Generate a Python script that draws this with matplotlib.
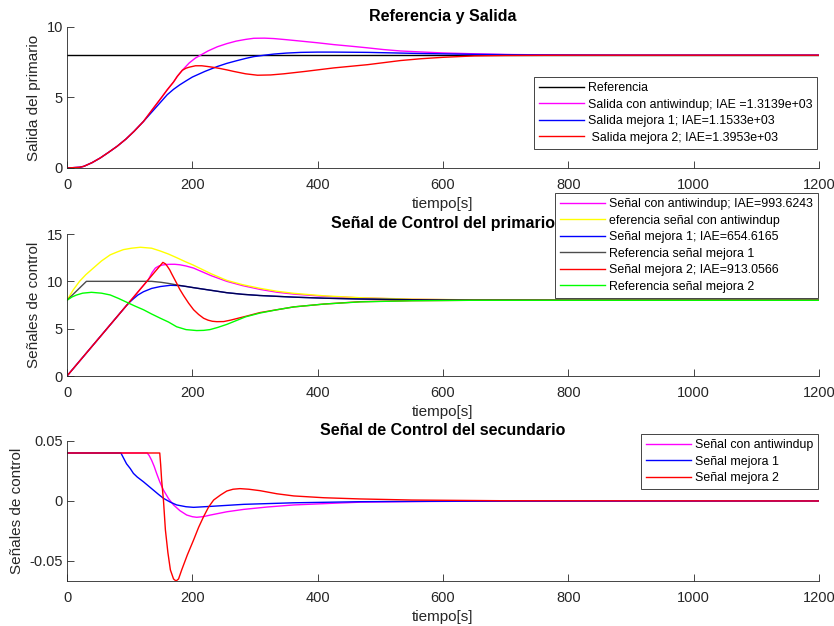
import numpy as np
import matplotlib.pyplot as plt

plt.rcParams['font.family'] = ['Liberation Sans', 'DejaVu Sans']

# ---------- subplot 1: Referencia y Salida ----------
t_ref = [0, 1200]
ref = [8, 8]

t_rise = [0, 20, 27, 40, 53, 66, 80, 94, 107, 122, 138, 150, 160, 170, 176, 184]
y_rise = [0, 0.05, 0.12, 0.38, 0.71, 1.1, 1.54, 2.05, 2.6, 3.3, 4.25, 4.95, 5.55, 6.1, 6.5, 6.93]

t_anti = [195, 205, 213, 225, 240, 255, 270, 285, 298, 315, 330, 350, 373, 400, 426, 455,
          480, 505, 532, 565, 600, 650, 700, 800, 900, 1200]
y_anti = [7.45, 7.8, 8.0, 8.3, 8.6, 8.82, 9.0, 9.12, 9.2, 9.21, 9.18, 9.1, 9.0, 8.88, 8.75, 8.63,
          8.52, 8.4, 8.3, 8.23, 8.16, 8.1, 8.05, 8.01, 8.0, 8.0]

t_mej1 = [122, 130, 138, 150, 160, 170, 180, 190, 200, 220, 240, 255, 270, 285, 298, 315,
          330, 350, 373, 400, 426, 480, 565, 650, 750, 900, 1200]
y_mej1 = [3.3, 3.7, 4.1, 4.7, 5.2, 5.58, 5.9, 6.18, 6.45, 6.85, 7.2, 7.42, 7.6, 7.77, 7.9, 8.0,
          8.08, 8.15, 8.2, 8.22, 8.22, 8.2, 8.12, 8.06, 8.02, 8.0, 8.0]

t_mej2 = [190, 195, 205, 215, 224, 235, 245, 256, 266, 285, 304, 325, 346, 380, 426, 480,
          532, 565, 600, 650, 700, 800, 1200]
y_mej2 = [7.08, 7.15, 7.25, 7.25, 7.2, 7.13, 7.05, 6.95, 6.85, 6.68, 6.58, 6.6, 6.68, 6.85, 7.1, 7.33,
          7.62, 7.75, 7.85, 7.95, 7.98, 8.0, 8.0]

# ---------- subplot 2: Señal de Control del primario ----------
t_yel = [0, 10, 20, 30, 42, 55, 69, 80, 90, 103, 117, 135, 149, 162, 175, 188, 202, 216, 230,
         255, 280, 308, 335, 362, 410, 468, 550, 650, 800, 1200]
y_yel = [8, 9.1, 10.0, 10.7, 11.4, 12.15, 12.8, 13.1, 13.35, 13.5, 13.6, 13.5, 13.2, 12.88, 12.5,
         12.1, 11.7, 11.25, 10.8, 10.1, 9.65, 9.26, 8.95, 8.73, 8.47, 8.27, 8.12, 8.04, 8.0, 8.0]

t_mag2 = [0, 130, 136, 141, 146, 152, 158, 165, 172, 180, 190, 202, 216, 230, 255, 280, 308,
          335, 362, 410, 468, 550, 650, 800, 1200]
y_mag2 = [0, 10.2, 10.95, 11.4, 11.6, 11.72, 11.78, 11.8, 11.8, 11.75, 11.62, 11.4, 11.0, 10.6,
          10.0, 9.55, 9.15, 8.85, 8.65, 8.42, 8.25, 8.1, 8.03, 8.0, 8.0]

t_blu2 = [0, 95, 100, 105, 113, 122, 135, 149, 165, 180, 191, 202, 230, 255, 280, 308, 362,
          410, 468, 550, 650, 800, 1200]
y_blu2 = [0, 7.45, 7.8, 8.1, 8.55, 8.9, 9.25, 9.45, 9.58, 9.55, 9.45, 9.33, 9.05, 8.8, 8.63, 8.5,
          8.33, 8.22, 8.13, 8.06, 8.02, 8.0, 8.0]

t_blk2 = [0, 31, 135, 150, 162, 175, 188, 202, 230, 255, 280, 308, 362, 410, 468, 550, 650,
          800, 1200]
y_blk2 = [8, 10, 10, 9.9, 9.78, 9.62, 9.48, 9.33, 9.05, 8.8, 8.63, 8.5, 8.33, 8.22, 8.13, 8.06,
          8.02, 8.0, 8.0]

t_red2 = [0, 153, 157, 160, 164, 167, 171, 175, 180, 186, 194, 202, 210, 218, 225, 232, 239,
          250, 261, 285, 308, 335, 362, 410, 468, 550, 650, 1200]
y_red2 = [0, 12, 11.85, 11.6, 11.2, 10.8, 10.3, 9.8, 9.15, 8.5, 7.7, 7.0, 6.5, 6.1, 5.9, 5.78,
          5.74, 5.75, 5.9, 6.3, 6.7, 7.0, 7.3, 7.6, 7.85, 7.96, 8.0, 8.0]

t_grn2 = [0, 8, 15, 25, 39, 55, 69, 82, 95, 108, 122, 135, 149, 162, 175, 190, 207, 218, 228,
          240, 255, 270, 285, 308, 335, 362, 410, 468, 550, 650, 1200]
y_grn2 = [8, 8.35, 8.55, 8.75, 8.84, 8.75, 8.56, 8.2, 7.8, 7.4, 7.0, 6.55, 6.1, 5.7, 5.2, 4.9,
          4.8, 4.82, 4.9, 5.12, 5.45, 5.85, 6.25, 6.65, 7.0, 7.3, 7.6, 7.83, 7.95, 8.0, 8.0]

# ---------- subplot 3: Señal de Control del secundario ----------
t_mag3 = [0, 128, 131, 135, 139, 143, 148, 154, 162, 170, 180, 191, 200, 207, 218, 229, 255,
          282, 320, 362, 420, 468, 550, 700, 1200]
y_mag3 = [0.04, 0.04, 0.038, 0.034, 0.029, 0.023, 0.016, 0.009, 0.002, -0.0033, -0.008, -0.0117,
          -0.0131, -0.0136, -0.0130, -0.0117, -0.009, -0.007, -0.005, -0.0033, -0.002, -0.001,
          -0.0005, 0.0, 0.0]

t_blu3 = [0, 86, 90, 95, 101, 106, 112, 122, 130, 138, 146, 154, 165, 175, 190, 202, 229, 282,
          362, 468, 600, 1200]
y_blu3 = [0.04, 0.04, 0.036, 0.031, 0.027, 0.023, 0.02, 0.016, 0.0125, 0.009, 0.0055, 0.0022,
          -0.001, -0.0033, -0.0048, -0.0053, -0.0045, -0.0028, -0.0015, -0.0006, -0.0002, 0.0]

t_red3 = [0, 148, 149.5, 151, 154, 157, 161, 165, 170, 174, 178, 183, 192, 202, 210, 218, 226,
          234, 245, 255, 265, 276, 290, 308, 335, 362, 410, 468, 550, 700, 1200]
y_red3 = [0.04, 0.04, 0.03, 0.0175, 0.0, -0.024, -0.043, -0.0575, -0.065, -0.0667, -0.065,
          -0.0575, -0.045, -0.0325, -0.022, -0.013, -0.005, 0.0008, 0.005, 0.0083, 0.0098, 0.0103,
          0.0098, 0.0086, 0.006, 0.0042, 0.0027, 0.0017, 0.0008, 0.0002, 0.0]

xticks = [0, 200, 400, 600, 800, 1000, 1200]

W, H = 834, 626
fig = plt.figure(figsize=(W / 100, H / 100), dpi=100)

ax_c = '#262626'
lw = 1.0
MAG = '#ff00ff'
YEL = '#ffff00'
BLU = '#0000ff'
RED = '#ff0000'
GRN = '#00ff00'


def frame(ax, title, ylabel, ylim, yticks, yticklabels=None):
    ax.set_xlim(0, 1200)
    ax.set_ylim(*ylim)
    ax.set_xticks(xticks)
    ax.set_yticks(yticks)
    if yticklabels is not None:
        ax.set_yticklabels(yticklabels)
    for s in ['top', 'right']:
        ax.spines[s].set_visible(False)
    for s in ['left', 'bottom']:
        ax.spines[s].set_color(ax_c)
        ax.spines[s].set_linewidth(0.6)
    ax.tick_params(direction='in', length=5, width=0.6, colors=ax_c, labelsize=10.5)
    ax.tick_params(axis='x', pad=7)
    ax.tick_params(axis='y', pad=3)
    ax.set_title(title, fontsize=11.5, fontweight='bold', pad=4)
    ax.set_xlabel('tiempo[s]', fontsize=11, color=ax_c, labelpad=4)
    ax.set_ylabel(ylabel, fontsize=11, color=ax_c, labelpad=4)


def legend(ax, loc_xy):
    lg = ax.legend(loc='upper right', bbox_to_anchor=loc_xy, bbox_transform=fig.transFigure,
                   fontsize=8.9, frameon=True, fancybox=False, framealpha=1,
                   borderaxespad=0, handlelength=3.65, handletextpad=0.3, labelspacing=0.37,
                   borderpad=0.4)
    lg.get_frame().set_edgecolor(ax_c)
    lg.get_frame().set_linewidth(0.6)
    return lg


# subplot 1
ax1 = fig.add_axes([67 / W, 1 - 168 / H, 752 / W, 141 / H])
ax1.plot(t_ref, ref, color='k', lw=lw, label='Referencia')
ax1.plot(t_rise + t_anti, y_rise + y_anti, color=MAG, lw=lw,
         label='Salida con antiwindup; IAE =1.3139e+03')
ax1.plot(t_rise[:10] + t_mej1[1:], y_rise[:10] + y_mej1[1:], color=BLU, lw=lw,
         label='Salida mejora 1; IAE=1.1533e+03')
ax1.plot(t_rise + t_mej2, y_rise + y_mej2, color=RED, lw=lw,
         label=' Salida mejora 2; IAE=1.3953e+03')
frame(ax1, 'Referencia y Salida', 'Salida del primario', (0, 10), [0, 5, 10])
legend(ax1, (817 / W, 1 - 77 / H))

# subplot 2
ax2 = fig.add_axes([67 / W, 1 - 376 / H, 752 / W, 142 / H])
ax2.plot(t_mag2, y_mag2, color=MAG, lw=lw, label='Señal con antiwindup; IAE=993.6243')
ax2.plot(t_yel, y_yel, color=YEL, lw=lw, label='eferencia señal con antiwindup')
ax2.plot(t_blu2, y_blu2, color=BLU, lw=lw, label='Señal mejora 1; IAE=654.6165')
ax2.plot(t_blk2, y_blk2, color='k', lw=lw, alpha=0.7, label='Referencia señal mejora 1')
ax2.plot(t_red2, y_red2, color=RED, lw=lw, label='Señal mejora 2; IAE=913.0566')
ax2.plot(t_grn2, y_grn2, color=GRN, lw=lw, label='Referencia señal mejora 2')
frame(ax2, 'Señal de Control del primario', 'Señales de control', (0, 15), [0, 5, 10, 15])
legend(ax2, (818 / W, 1 - 193 / H))

# subplot 3
ax3 = fig.add_axes([67 / W, 1 - 581 / H, 752 / W, 140 / H])
ax3.plot(t_mag3, y_mag3, color=MAG, lw=lw, label='Señal con antiwindup')
ax3.plot(t_blu3, y_blu3, color=BLU, lw=lw, label='Señal mejora 1')
ax3.plot(t_red3, y_red3, color=RED, lw=lw, label='Señal mejora 2')
frame(ax3, 'Señal de Control del secundario', 'Señales de control', (min(y_red3), 0.05),
      [-0.05, 0, 0.05], ['-0.05', '0', '0.05'])
legend(ax3, (818 / W, 1 - 434 / H))

fig.savefig('out.png', dpi=100)
